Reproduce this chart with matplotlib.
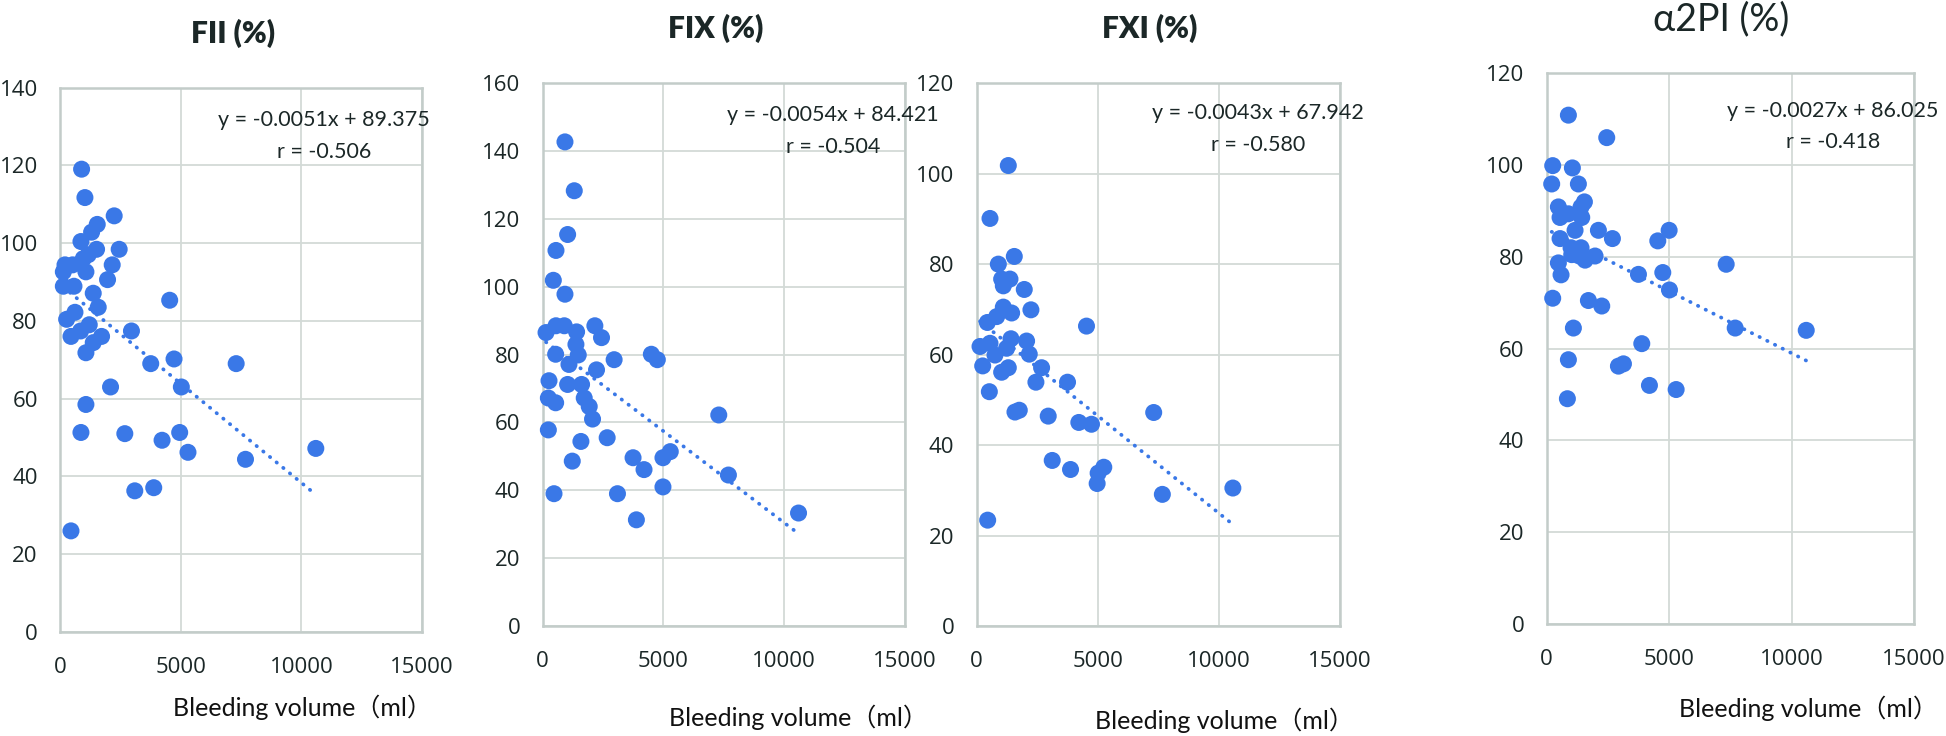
import numpy as np
import matplotlib
matplotlib.use("Agg")
import matplotlib.pyplot as plt

# ---------------- data ----------------
titles = ["FII (%)", "FIX (%)", "FXI (%)", "α2PI (%)"]
x_label = "Bleeding volume（ml）"
x_ticks = [0, 5000, 10000, 15000]
y_max = [140, 160, 120, 120]

fii_x = [895, 1033, 2245, 1543, 1309, 868, 1515, 2452, 1171, 964, 207, 523, 2163, 138, 1074,
         1970, 138, 579, 1377, 4545, 1584, 620, 275, 1212, 854, 2961, 455, 1722, 1377, 1074,
         4725, 3760, 7300, 2094, 5028, 1074, 868, 2686, 4959, 4229, 5303, 10600, 7686, 3099,
         3884, 455]
fii_y = [119.0, 111.7, 107.0, 104.8, 102.8, 100.4, 98.4, 98.4, 97.0, 96.0, 94.4, 94.4, 94.4,
         92.6, 92.6, 90.6, 88.9, 88.9, 87.1, 85.3, 83.5, 82.2, 80.4, 79.0, 77.4, 77.4, 76.0,
         76.0, 74.4, 71.8, 70.2, 69.0, 69.0, 63.0, 63.0, 58.5, 51.3, 51.0, 51.3, 49.3, 46.2,
         47.2, 44.4, 36.3, 37.1, 26.0]

fix_x = [922, 1307, 1032, 550, 440, 922, 138, 550, 894, 1403, 2160, 2435, 1376, 536, 1472,
         2957, 4498, 4746, 1087, 2228, 261, 1032, 1609, 234, 536, 1719, 1926, 2063, 7290, 234,
         1582, 2669, 3741, 4195, 4979, 5282, 1224, 7689, 4979, 468, 3095, 3879, 10592]
fix_y = [142.7, 128.3, 115.4, 110.7, 101.9, 97.8, 86.5, 88.5, 88.5, 86.7, 88.5, 85.0, 83.0,
         80.1, 79.9, 78.5, 80.1, 78.5, 77.1, 75.5, 72.3, 71.2, 71.2, 67.2, 65.8, 67.2, 64.7,
         61.0, 62.2, 57.8, 54.4, 55.5, 49.6, 46.1, 49.6, 51.4, 48.6, 44.5, 41.0, 39.0, 39.0,
         31.3, 33.3]

fxi_x = [1305, 549, 1552, 893, 1030, 1374, 1099, 1964, 1099, 1442, 2239, 824, 440, 4533, 137,
         549, 1415, 2060, 1236, 755, 2170, 247, 1305, 1030, 2679, 2445, 3750, 522, 1580, 1758,
         2953, 4217, 4739, 7308, 3118, 3874, 5247, 5014, 4973, 7665, 10577, 453]
fxi_y = [101.8, 90.1, 81.7, 80.0, 76.7, 76.7, 75.2, 74.4, 70.5, 69.2, 69.9, 68.4, 67.1, 66.3,
         61.8, 62.5, 63.5, 63.0, 61.4, 59.9, 60.1, 57.5, 57.1, 56.1, 57.1, 53.9, 53.9, 51.8,
         47.3, 47.7, 46.4, 45.0, 44.6, 47.2, 36.6, 34.6, 35.1, 33.8, 31.5, 29.1, 30.5, 23.4]

a2pi_x = [886, 2452, 245, 1049, 204, 1294, 1540, 477, 1403, 886, 545, 1431, 1158, 2112, 5000,
          545, 2684, 4537, 995, 1403, 1022, 1335, 1975, 1567, 477, 7330, 586, 3747, 4741, 5014,
          245, 1703, 2248, 1090, 7698, 10599, 3883, 886, 2929, 3134, 4196, 5286, 845]
a2pi_y = [110.9, 106.0, 99.9, 99.4, 95.9, 95.9, 92.0, 90.9, 90.9, 89.4, 88.6, 88.6, 85.8, 85.8,
          85.8, 84.0, 84.0, 83.5, 82.0, 82.0, 80.5, 80.2, 80.2, 79.3, 78.7, 78.4, 76.1, 76.2,
          76.6, 72.8, 71.0, 70.5, 69.3, 64.5, 64.5, 64.0, 61.1, 57.6, 56.2, 56.7, 52.0, 51.1,
          49.1]

slopes = [-0.0051, -0.0054, -0.0043, -0.0027]
intercepts = [89.375, 84.421, 67.942, 86.025]
r_values = [-0.506, -0.504, -0.580, -0.418]

series_x = [fii_x, fix_x, fxi_x, a2pi_x]
series_y = [fii_y, fix_y, fxi_y, a2pi_y]

# ---------------- style / layout ----------------
W, H = 1946, 736
fig = plt.figure(figsize=(W / 100, H / 100), dpi=100)
fig.patch.set_facecolor("white")

BLUE = "#3A78E7"
TXT = "#1B2727"
GRID = "#D3DAD7"
SPINE = "#C3CCC9"
FONT = ["Lato", "DejaVu Sans"]
TICKFONT = ["Open Sans", "DejaVu Sans"]
XLFONT = ["Lato", "Noto Sans CJK JP"]

# axes boxes in pixels: left, right, top, bottom
boxes = [(60, 422, 87.5, 632), (542.7, 905, 83.2, 626),
         (976.7, 1340, 83.2, 626), (1546.7, 1914, 73.4, 624)]
title_pos = [(233, 33), (716, 28), (1150, 28), (1721, 19)]
title_weight = ["heavy", "heavy", "heavy", "normal"]
title_size = [21.5, 21.5, 21.5, 27]
xlabel_pos = [(302, 707), (798, 717), (1224, 720), (1808, 708)]
eq_pos = [(0.729, 0.940, 0.882), (0.801, 0.941, 0.882),
          (0.774, 0.945, 0.886), (0.779, 0.932, 0.875)]

for i in range(4):
    l, r, t, b = boxes[i]
    ax = fig.add_axes([l / W, 1 - b / H, (r - l) / W, (b - t) / H])
    xs = np.array(series_x[i], dtype=float)
    ys = np.array(series_y[i], dtype=float)

    ax.set_xlim(0, 15000)
    ax.set_ylim(0, y_max[i])
    ax.set_xticks(x_ticks)
    ax.set_yticks(np.arange(0, y_max[i] + 1, 20))
    ax.grid(True, color=GRID, linewidth=1.3, zorder=0)
    ax.set_axisbelow(True)
    for s in ax.spines.values():
        s.set_color(SPINE)
        s.set_linewidth(1.8)
    ax.tick_params(length=0, labelsize=16, labelcolor=TXT)
    ax.tick_params(axis="y", pad=16)
    ax.tick_params(axis="x", pad=18)
    for lab in ax.get_xticklabels() + ax.get_yticklabels():
        lab.set_family(TICKFONT)

    ax.scatter(xs, ys, s=150, color=BLUE, edgecolors="none", zorder=3, clip_on=False)

    xl = np.array([xs.min(), xs.max()])
    ax.plot(xl, slopes[i] * xl + intercepts[i], color=BLUE, linewidth=2.7,
            linestyle=(0, (0.1, 2.2)), dash_capstyle="round", zorder=4)

    ex, ey, ry = eq_pos[i]
    ax.text(ex, ey, f"y = {slopes[i]:.4f}x + {intercepts[i]:.3f}", transform=ax.transAxes,
            ha="center", va="center", fontsize=15.5, color=TXT, family=FONT, zorder=5)
    ax.text(ex, ry, f"r = {r_values[i]:.3f}", transform=ax.transAxes,
            ha="center", va="center", fontsize=15.5, color=TXT, family=FONT, zorder=5)

    tx, ty = title_pos[i]
    fig.text(tx / W, 1 - ty / H, titles[i], ha="center", va="center",
             fontsize=title_size[i], fontweight=title_weight[i], color=TXT, family=FONT)
    lx, ly = xlabel_pos[i]
    fig.text(lx / W, 1 - ly / H, x_label, ha="center", va="center",
             fontsize=18, color="#111111", family=XLFONT)

fig.savefig("out.png", dpi=100, facecolor="white")
